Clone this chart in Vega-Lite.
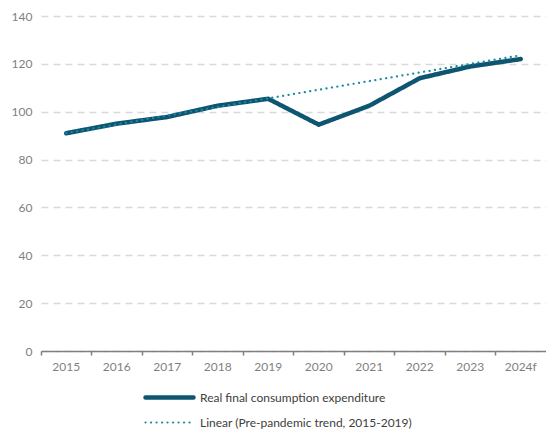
{
  "$schema": "https://vega.github.io/schema/vega-lite/v6.json",
  "width": 505,
  "height": 335,
  "autosize": {"type": "none"},
  "padding": {"left": 41, "top": 16, "right": 0, "bottom": 83},
  "background": "white",
  "config": {
    "font": "Lato",
    "view": {"stroke": null}
  },
  "data": {
    "values": [
      {"year": "2015", "value": 91.0, "series": "Real final consumption expenditure"},
      {"year": "2016", "value": 95.0, "series": "Real final consumption expenditure"},
      {"year": "2017", "value": 97.8, "series": "Real final consumption expenditure"},
      {"year": "2018", "value": 102.5, "series": "Real final consumption expenditure"},
      {"year": "2019", "value": 105.4, "series": "Real final consumption expenditure"},
      {"year": "2020", "value": 94.6, "series": "Real final consumption expenditure"},
      {"year": "2021", "value": 102.5, "series": "Real final consumption expenditure"},
      {"year": "2022", "value": 114.0, "series": "Real final consumption expenditure"},
      {"year": "2023", "value": 118.9, "series": "Real final consumption expenditure"},
      {"year": "2024f", "value": 122.0, "series": "Real final consumption expenditure"},
      {"year": "2015", "value": 91.1, "series": "Linear (Pre-pandemic trend, 2015-2019)"},
      {"year": "2016", "value": 94.7, "series": "Linear (Pre-pandemic trend, 2015-2019)"},
      {"year": "2017", "value": 98.4, "series": "Linear (Pre-pandemic trend, 2015-2019)"},
      {"year": "2018", "value": 102.0, "series": "Linear (Pre-pandemic trend, 2015-2019)"},
      {"year": "2019", "value": 105.6, "series": "Linear (Pre-pandemic trend, 2015-2019)"},
      {"year": "2020", "value": 109.2, "series": "Linear (Pre-pandemic trend, 2015-2019)"},
      {"year": "2021", "value": 112.8, "series": "Linear (Pre-pandemic trend, 2015-2019)"},
      {"year": "2022", "value": 116.4, "series": "Linear (Pre-pandemic trend, 2015-2019)"},
      {"year": "2023", "value": 120.0, "series": "Linear (Pre-pandemic trend, 2015-2019)"},
      {"year": "2024f", "value": 123.6, "series": "Linear (Pre-pandemic trend, 2015-2019)"}
    ]
  },
  "mark": {"type": "line", "strokeCap": "round", "strokeJoin": "round"},
  "encoding": {
    "x": {
      "field": "year",
      "type": "ordinal",
      "scale": {"type": "band", "paddingInner": 0, "paddingOuter": 0},
      "axis": {
        "title": null,
        "labelAngle": 0,
        "labelFont": "Lato",
        "labelFontSize": 12,
        "labelColor": "#7f7f7f",
        "labelPadding": 6,
        "domainColor": "#7f7f7f",
        "domainWidth": 1.5,
        "tickColor": "#7f7f7f",
        "tickWidth": 1.5,
        "tickSize": 4,
        "bandPosition": 0,
        "grid": false
      }
    },
    "y": {
      "field": "value",
      "type": "quantitative",
      "scale": {"domain": [0, 140], "nice": false},
      "axis": {
        "title": null,
        "values": [0, 20, 40, 60, 80, 100, 120, 140],
        "labelFont": "Lato",
        "labelFontSize": 12,
        "labelColor": "#7f7f7f",
        "labelPadding": 9,
        "domain": false,
        "ticks": false,
        "grid": true,
        "gridColor": "#d9d9d9",
        "gridWidth": 1.5,
        "gridDash": [7, 5]
      }
    },
    "color": {
      "field": "series",
      "type": "nominal",
      "sort": ["Real final consumption expenditure", "Linear (Pre-pandemic trend, 2015-2019)"],
      "scale": {
        "domain": ["Real final consumption expenditure", "Linear (Pre-pandemic trend, 2015-2019)"],
        "range": ["#0d5570", "#1a8aa2"]
      },
      "legend": {
        "title": null,
        "orient": "none",
        "legendX": 116,
        "legendY": 369,
        "direction": "vertical",
        "symbolType": "M-2.4,0L2.4,0",
        "symbolSize": 400,
        "labelFont": "Lato",
        "labelFontSize": 12,
        "labelColor": "#404040",
        "labelOffset": 18,
        "labelLimit": 0,
        "rowPadding": 4,
        "encode": {
          "symbols": {"update": {"strokeCap": {"value": "round"}}}
        }
      }
    },
    "strokeDash": {
      "field": "series",
      "type": "nominal",
      "sort": ["Real final consumption expenditure", "Linear (Pre-pandemic trend, 2015-2019)"],
      "scale": {
        "domain": ["Real final consumption expenditure", "Linear (Pre-pandemic trend, 2015-2019)"],
        "range": [[1, 0], [0.1, 5.4]]
      }
    },
    "strokeWidth": {
      "field": "series",
      "type": "nominal",
      "sort": ["Real final consumption expenditure", "Linear (Pre-pandemic trend, 2015-2019)"],
      "scale": {
        "domain": ["Real final consumption expenditure", "Linear (Pre-pandemic trend, 2015-2019)"],
        "range": [4.5, 2.2]
      }
    }
  }
}
